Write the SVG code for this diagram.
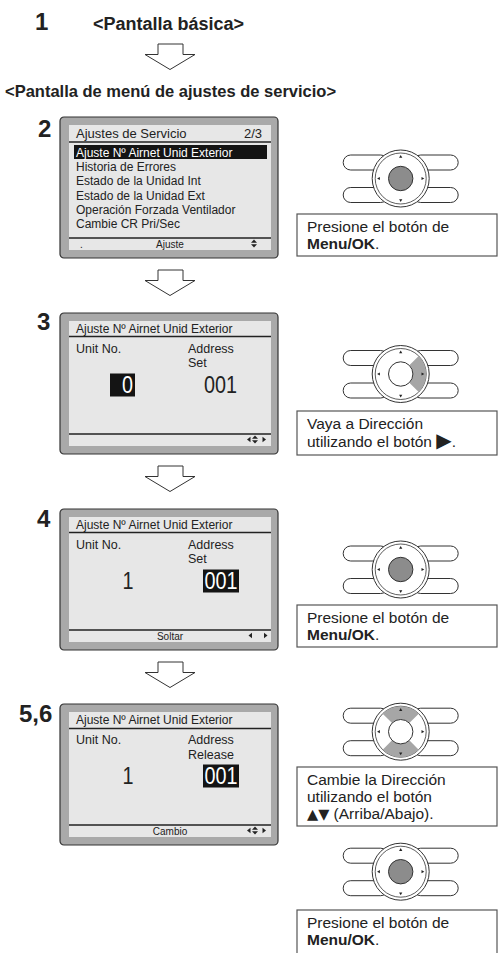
<svg xmlns="http://www.w3.org/2000/svg" xmlns:xlink="http://www.w3.org/1999/xlink" width="499" height="953" viewBox="0 0 499 953">
<style>
.t{font-family:"Liberation Sans",Arial,sans-serif;fill:#222}
.b{font-weight:bold}
.w{fill:#fff}
.sym{font-family:"DejaVu Sans",sans-serif}
.scr{fill:#a9a9a9;stroke:#333;stroke-width:1.2}
.lcd{fill:#e7e7e7}
.sep{stroke:#222;stroke-width:1.5}
.arrow{fill:#fff;stroke:#333;stroke-width:1}
.pill{fill:#fff;stroke:#333;stroke-width:1}
.ring{fill:#fff;stroke:#333;stroke-width:1}
.ring2{fill:none;stroke:#333;stroke-width:0.8}
.btn{fill:#8c8c8c;stroke:#333;stroke-width:1}
.btnw{fill:#fff;stroke:#333;stroke-width:1}
.wedge{fill:#a6a6a6}
.box{fill:#fff;stroke:#555;stroke-width:1.2}
.hl{fill:#141414}
.ico{fill:#222}
.f12{font-size:12px}
.f125{font-size:12.5px}
.f10{font-size:10px}
.num{font-size:23px}
.step{font-size:24px;font-weight:bold}
.msg{font-size:15.5px}
</style>
<defs>
<g id="padbase">
<rect class="pill" x="-57.5" y="-23.5" width="45" height="15" rx="7.5"/>
<rect class="pill" x="12.5" y="-23.5" width="45" height="15" rx="7.5"/>
<rect class="pill" x="-57.5" y="9" width="45" height="15" rx="7.5"/>
<rect class="pill" x="12.5" y="9" width="45" height="15" rx="7.5"/>
<circle class="ring" r="28.5"/>
<circle class="ring2" r="25.5"/>
</g>
<g id="marks">
<polygon class="ico" points="-1.6,-20.8 1.6,-20.8 0,-23.6"/>
<polygon class="ico" points="-1.6,20.8 1.6,20.8 0,23.6"/>
<polygon class="ico" points="-20.8,-1.6 -20.8,1.6 -23.6,0"/>
<polygon class="ico" points="20.8,-1.6 20.8,1.6 23.6,0"/>
</g>
<g id="frame">
<rect class="scr" x="0" y="0" width="218" height="141" rx="4"/>
<rect class="lcd" x="9" y="8" width="202" height="125"/>
<line class="sep" x1="9" y1="121" x2="211" y2="121"/>
</g>
<g id="ud">
<polygon class="ico" points="-3,-0.8 3,-0.8 0,-4"/>
<polygon class="ico" points="-3,0.8 3,0.8 0,4"/>
</g>
<g id="lr">
<polygon class="ico" points="0,-2.8 0,2.8 -3.5,0"/>
<polygon class="ico" points="0,-2.8 0,2.8 3.5,0" transform="translate(12,0)"/>
</g>
<polygon id="arr" class="arrow" points="158,0 183,0 183,10.5 195,10.5 170,25.5 145,10.5 158,10.5"/>
</defs>

<g id="header">
<text class="t step" x="35" y="30">1</text>
<text class="t b" x="93" y="30" font-size="18">&lt;Pantalla básica&gt;</text>
<text class="t b" x="5" y="97" font-size="16.5">&lt;Pantalla de menú de ajustes de servicio&gt;</text>
</g>

<g id="connectors">
<use xlink:href="#arr" y="44"/>
<use xlink:href="#arr" y="270"/>
<use xlink:href="#arr" y="466"/>
<use xlink:href="#arr" y="662"/>
</g>

<g id="screen2">
<text class="t step" x="38" y="137">2</text>
<g transform="translate(60,117)">
<use xlink:href="#frame"/>
<text class="t" x="16" y="20.5" font-size="13">Ajustes de Servicio</text>
<text class="t" x="202" y="20.5" font-size="13" text-anchor="end">2/3</text>
<line class="sep" x1="9" y1="25" x2="211" y2="25"/>
<rect class="hl" x="14" y="28" width="193" height="14"/>
<text class="t f12 w" x="16" y="40">Ajuste Nº Airnet Unid Exterior</text>
<text class="t f12" x="16" y="54.2">Historia de Errores</text>
<text class="t f12" x="16" y="68.4">Estado de la Unidad Int</text>
<text class="t f12" x="16" y="82.6">Estado de la Unidad Ext</text>
<text class="t f12" x="16" y="96.8">Operación Forzada Ventilador</text>
<text class="t f12" x="16" y="111">Cambie CR Pri/Sec</text>
<text class="t f10" x="20" y="131" fill="#888">.</text>
<text class="t f10" x="110" y="131" text-anchor="middle">Ajuste</text>
<use xlink:href="#ud" x="194" y="126.5"/>
</g>
</g>

<g id="screen3">
<text class="t step" x="37" y="330">3</text>
<g transform="translate(60,313)">
<use xlink:href="#frame"/>
<text class="t f12" x="16" y="19.5">Ajuste Nº Airnet Unid Exterior</text>
<line class="sep" x1="9" y1="23.5" x2="211" y2="23.5"/>
<text class="t f125" x="16" y="40">Unit No.</text>
<text class="t f125" x="128" y="40">Address</text>
<text class="t f125" x="128" y="54">Set</text>
<rect class="hl" x="50" y="60.5" width="25" height="23"/>
<text class="t num w" x="62" y="80" textLength="11" lengthAdjust="spacingAndGlyphs">0</text>
<text class="t num" x="144" y="80" textLength="33" lengthAdjust="spacingAndGlyphs">001</text>
<use xlink:href="#lr" x="190.5" y="126.5"/>
<use xlink:href="#ud" x="195" y="126.5"/>
</g>
</g>

<g id="screen4">
<text class="t step" x="37" y="527">4</text>
<g transform="translate(60,509)">
<use xlink:href="#frame"/>
<text class="t f12" x="16" y="19.5">Ajuste Nº Airnet Unid Exterior</text>
<line class="sep" x1="9" y1="23.5" x2="211" y2="23.5"/>
<text class="t f125" x="16" y="40">Unit No.</text>
<text class="t f125" x="128" y="40">Address</text>
<text class="t f125" x="128" y="54">Set</text>
<text class="t num" x="62.5" y="80" textLength="11" lengthAdjust="spacingAndGlyphs">1</text>
<rect class="hl" x="143" y="60.5" width="36" height="23"/>
<text class="t num w" x="144.5" y="80" textLength="33" lengthAdjust="spacingAndGlyphs">001</text>
<text class="t f10" x="110" y="131" text-anchor="middle">Soltar</text>
<use xlink:href="#lr" x="192" y="126.5"/>
</g>
</g>

<g id="screen56">
<text class="t step" x="19" y="722">5,6</text>
<g transform="translate(60,704)">
<use xlink:href="#frame"/>
<text class="t f12" x="16" y="20">Ajuste Nº Airnet Unid Exterior</text>
<line class="sep" x1="9" y1="24.5" x2="211" y2="24.5"/>
<text class="t f125" x="16" y="40">Unit No.</text>
<text class="t f125" x="128" y="40">Address</text>
<text class="t f125" x="128" y="55">Release</text>
<text class="t num" x="62.5" y="80" textLength="11" lengthAdjust="spacingAndGlyphs">1</text>
<rect class="hl" x="143" y="60.5" width="36" height="23"/>
<text class="t num w" x="144.5" y="80" textLength="33" lengthAdjust="spacingAndGlyphs">001</text>
<text class="t f10" x="110" y="131" text-anchor="middle">Cambio</text>
<use xlink:href="#lr" x="190.5" y="126.5"/>
<use xlink:href="#ud" x="195" y="126.5"/>
</g>
</g>

<g id="pad1">
<g transform="translate(400.7,178.5)">
<use xlink:href="#padbase"/>
<use xlink:href="#marks"/>
<circle class="btn" r="12.2"/>
</g>
<rect class="box" x="297" y="214" width="200" height="42"/>
<text class="t msg" x="307" y="232">Presione el botón de</text>
<text class="t msg" x="307" y="249"><tspan class="b">Menu/OK</tspan>.</text>
</g>

<g id="pad2">
<g transform="translate(400.7,374)">
<use xlink:href="#padbase"/>
<path class="wedge" d="M8.63,-8.63 L18.03,-18.03 A25.5,25.5 0 0 1 18.03,18.03 L8.63,8.63 A12.2,12.2 0 0 0 8.63,-8.63 Z"/>
<use xlink:href="#marks"/>
<circle class="btnw" r="12.2"/>
</g>
<rect class="box" x="297" y="411" width="200" height="44"/>
<text class="t msg" x="307" y="429">Vaya a Dirección</text>
<text class="t msg" x="307" y="447">utilizando el botón <tspan class="sym" font-size="20">▶</tspan>.</text>
</g>

<g id="pad3">
<g transform="translate(400.7,569.5)">
<use xlink:href="#padbase"/>
<use xlink:href="#marks"/>
<circle class="btn" r="12.2"/>
</g>
<rect class="box" x="297" y="605" width="200" height="42"/>
<text class="t msg" x="307" y="623">Presione el botón de</text>
<text class="t msg" x="307" y="640"><tspan class="b">Menu/OK</tspan>.</text>
</g>

<g id="pad4">
<g transform="translate(400.7,731.7)">
<use xlink:href="#padbase"/>
<path class="wedge" d="M-8.63,-8.63 L-18.03,-18.03 A25.5,25.5 0 0 1 18.03,-18.03 L8.63,-8.63 A12.2,12.2 0 0 0 -8.63,-8.63 Z"/>
<path class="wedge" d="M8.63,8.63 L18.03,18.03 A25.5,25.5 0 0 1 -18.03,18.03 L-8.63,8.63 A12.2,12.2 0 0 0 8.63,8.63 Z"/>
<use xlink:href="#marks"/>
<circle class="btnw" r="12.2"/>
</g>
<rect class="box" x="297" y="767" width="200" height="59"/>
<text class="t msg" x="307" y="785">Cambie la Dirección</text>
<text class="t msg" x="307" y="802">utilizando el botón</text>
<text class="t msg" x="307" y="819"><tspan class="sym" font-size="14.5">▲▼</tspan> (Arriba/Abajo).</text>
</g>

<g id="pad5">
<g transform="translate(400.7,871.7)">
<use xlink:href="#padbase"/>
<use xlink:href="#marks"/>
<circle class="btn" r="12.2"/>
</g>
<rect class="box" x="297" y="910" width="200" height="60"/>
<text class="t msg" x="307" y="928">Presione el botón de</text>
<text class="t msg" x="307" y="945"><tspan class="b">Menu/OK</tspan>.</text>
</g>
</svg>
